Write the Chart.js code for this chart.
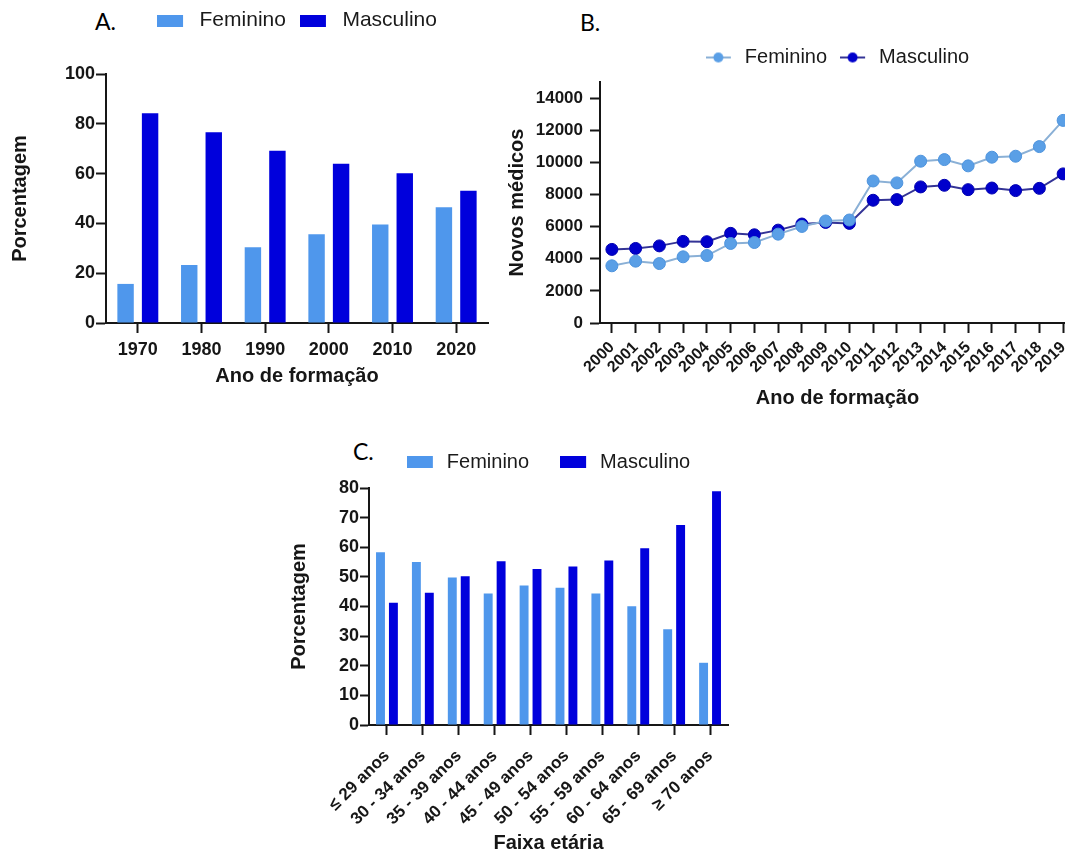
<!DOCTYPE html>
<html>
<head>
<meta charset="utf-8">
<script src="https://cdn.jsdelivr.net/npm/chart.js@4.4.1/dist/chart.umd.min.js"></script>
<style>
  html, body { margin: 0; padding: 0; background: #fff; }
  body { width: 1065px; height: 855px; overflow: hidden; position: relative; }
  canvas, .tag { position: absolute; }
  .tag { font-family: Lato, "Open Sans", sans-serif; font-size: 23px; line-height: 23px; color: #000; }
</style>
</head>
<body>
<div class="tag" style="left:95px;top:10px">A.</div>
<div class="tag" style="left:580px;top:11px">B.</div>
<div class="tag" style="left:353px;top:440px">C.</div>
<canvas id="chartA" width="500" height="404" style="left:0;top:-4px"></canvas>
<canvas id="chartB" width="600" height="420" style="left:500px;top:0"></canvas>
<canvas id="chartC" width="480" height="434" style="left:270px;top:421px"></canvas>
<script>
// A. percentage by graduation decade
const decadas = ['1970', '1980', '1990', '2000', '2010', '2020'];
const femininoDecada = [15.7, 23.3, 30.4, 35.6, 39.6, 46.5];
const masculinoDecada = [84.2, 76.6, 69.2, 64.0, 60.1, 53.1];

// B. new doctors per year
const anos = ['2000', '2001', '2002', '2003', '2004', '2005', '2006', '2007', '2008', '2009',
  '2010', '2011', '2012', '2013', '2014', '2015', '2016', '2017', '2018', '2019'];
const femininoAno = [3560, 3850, 3700, 4120, 4200, 4950, 5010, 5530, 6010, 6350,
  6410, 8840, 8720, 10070, 10170, 9780, 10320, 10380, 10980, 12610];
const masculinoAno = [4580, 4640, 4800, 5080, 5060, 5580, 5490, 5780, 6160, 6260,
  6200, 7640, 7680, 8470, 8570, 8300, 8400, 8240, 8380, 9280];
const ticksNovos = [0, 2000, 4000, 6000, 8000, 10000, 12000, 14000];

// C. percentage by age group
const faixas = ['≤ 29 anos', '30 - 34 anos', '35 - 39 anos', '40 - 44 anos', '45 - 49 anos',
  '50 - 54 anos', '55 - 59 anos', '60 - 64 anos', '65 - 69 anos', '≥ 70 anos'];
const femininoFaixa = [58.3, 55.0, 49.8, 44.4, 47.1, 46.3, 44.4, 40.1, 32.3, 21.0];
const masculinoFaixa = [41.3, 44.6, 50.2, 55.3, 52.7, 53.5, 55.5, 59.7, 67.5, 78.9];

const corFem = '#4f97ec';
const corMasc = '#0000dc';
const tinta = '#161616';

Chart.defaults.font.family = '"Liberation Sans", Arial, sans-serif';
Chart.defaults.color = tinta;
Chart.defaults.animation = false;
Chart.defaults.plugins.tooltip.enabled = false;

// small legend swatches
function boxSwatch(color, w) {
  const c = document.createElement('canvas');
  c.width = w; c.height = 12;
  const g = c.getContext('2d');
  g.fillStyle = color;
  g.fillRect(0, 0, 26, 12);
  return c;
}
function lineSwatch(line, dot) {
  const c = document.createElement('canvas');
  c.width = 29; c.height = 12;
  const g = c.getContext('2d');
  g.strokeStyle = line; g.lineWidth = 2;
  g.beginPath(); g.moveTo(0, 6); g.lineTo(25, 6); g.stroke();
  g.fillStyle = dot;
  g.beginPath(); g.arc(12.5, 6, 5, 0, Math.PI * 2); g.fill();
  return c;
}

// fixed legend height so the plot area sits where it should
function legendHeight(h) {
  return {
    id: 'legendHeight',
    beforeInit(chart) {
      const fit = chart.legend.fit;
      chart.legend.fit = function () { fit.call(this); this.height = h; };
    }
  };
}

function legend(swatches, size, pad, w) {
  return {
    fullSize: false,
    labels: {
      usePointStyle: true,
      pointStyleWidth: w,
      boxHeight: 12,
      padding: pad,
      color: '#1a1a1a',
      font: { size: size },
      generateLabels(chart) {
        const items = Chart.defaults.plugins.legend.labels.generateLabels(chart);
        items.forEach((it, i) => { it.pointStyle = swatches[i]; });
        return items;
      }
    }
  };
}

function grade(len) {
  return { drawOnChartArea: false, tickLength: len, tickColor: tinta, tickWidth: 2, offset: false };
}
const borda = { color: tinta, width: 2 };

// ---- A ----
new Chart(document.getElementById('chartA'), {
  type: 'bar',
  data: {
    labels: decadas,
    datasets: [
      { label: 'Feminino', data: femininoDecada, backgroundColor: corFem },
      { label: 'Masculino', data: masculinoDecada, backgroundColor: corMasc }
    ]
  },
  options: {
    responsive: false,
    categoryPercentage: 0.77,
    barPercentage: 0.67,
    layout: { padding: { top: 0, left: 0, right: 12, bottom: 0 } },
    plugins: {
      legend: legend([boxSwatch(corFem, 32), boxSwatch(corMasc, 32)], 21, 14, 32)
    },
    scales: {
      x: {
        offset: true,
        grid: grade(10),
        border: borda,
        ticks: { font: { size: 18, weight: 'bold' }, padding: 6 },
        title: { display: true, text: 'Ano de formação', font: { size: 20, weight: 'bold' }, padding: { top: 0, bottom: 12 } },
        afterFit(s) { s.height = 77; }
      },
      y: {
        min: 0, max: 100,
        grid: grade(10),
        border: borda,
        ticks: { stepSize: 20, font: { size: 18, weight: 'bold' }, padding: 1 },
        title: { display: true, text: 'Porcentagem', font: { size: 20, weight: 'bold' }, padding: { top: 8, bottom: 0 } },
        afterFit(s) { s.width = 106; }
      }
    }
  },
  plugins: [legendHeight(78)]
});

// ---- B ----
new Chart(document.getElementById('chartB'), {
  type: 'line',
  data: {
    labels: anos,
    datasets: [
      { label: 'Feminino', data: femininoAno, borderColor: '#8ab0d6', backgroundColor: '#5a9fe6',
        pointBackgroundColor: '#5a9fe6', pointBorderColor: '#4d93dd' },
      { label: 'Masculino', data: masculinoAno, borderColor: '#343496', backgroundColor: '#0000cc',
        pointBackgroundColor: '#0000cc', pointBorderColor: '#0000b0' }
    ]
  },
  options: {
    responsive: false,
    elements: {
      line: { borderWidth: 2, tension: 0 },
      point: { radius: 6, hoverRadius: 6, borderWidth: 1 }
    },
    layout: { padding: { top: 34.5, left: 0, right: 25, bottom: 0 } },
    plugins: {
      legend: legend([lineSwatch('#8ab0d6', '#5a9fe6'), lineSwatch('#343496', '#0000cc')], 20, 13, 29)
    },
    scales: {
      x: {
        offset: true,
        grid: grade(10),
        border: borda,
        ticks: { font: { size: 16, weight: 'bold' }, padding: 5, autoSkip: false, minRotation: 45, maxRotation: 45 },
        title: { display: true, text: 'Ano de formação', font: { size: 20, weight: 'bold' }, padding: { top: 0, bottom: 10 } },
        afterFit(s) { s.height = 97; }
      },
      y: {
        min: 0, max: 15000,
        grid: grade(10),
        border: borda,
        afterBuildTicks(s) { s.ticks = ticksNovos.map(v => ({ value: v })); },
        ticks: { font: { size: 17, weight: 'bold' }, padding: 7, callback: v => String(v) },
        title: { display: true, text: 'Novos médicos', font: { size: 20, weight: 'bold' }, padding: { top: 5, bottom: 0 } },
        afterFit(s) { s.width = 100; }
      }
    }
  },
  plugins: [legendHeight(47.5)]
});

// ---- C ----
new Chart(document.getElementById('chartC'), {
  type: 'bar',
  data: {
    labels: faixas,
    datasets: [
      { label: 'Feminino', data: femininoFaixa, backgroundColor: corFem },
      { label: 'Masculino', data: masculinoFaixa, backgroundColor: corMasc }
    ]
  },
  options: {
    responsive: false,
    categoryPercentage: 0.72,
    barPercentage: 0.69,
    layout: { padding: { top: 0, left: 0, right: 22, bottom: 0 } },
    plugins: {
      legend: legend([boxSwatch(corFem, 30), boxSwatch(corMasc, 30)], 20, 31, 30)
    },
    scales: {
      x: {
        offset: true,
        grid: grade(10),
        border: borda,
        ticks: { font: { size: 17, weight: 'bold' }, padding: 11, autoSkip: false, minRotation: 45, maxRotation: 45 },
        title: { display: true, text: 'Faixa etária', font: { size: 20, weight: 'bold' }, padding: { top: 0, bottom: 0 } },
        afterFit(s) { s.height = 130; }
      },
      y: {
        min: 0, max: 80,
        grid: grade(9),
        border: borda,
        ticks: { stepSize: 10, font: { size: 18, weight: 'bold' }, padding: 1 },
        title: { display: true, text: 'Porcentagem', font: { size: 20, weight: 'bold' }, padding: { top: 17, bottom: 0 } },
        afterFit(s) { s.width = 99; }
      }
    }
  },
  plugins: [legendHeight(67)]
});
</script>
</body>
</html>
